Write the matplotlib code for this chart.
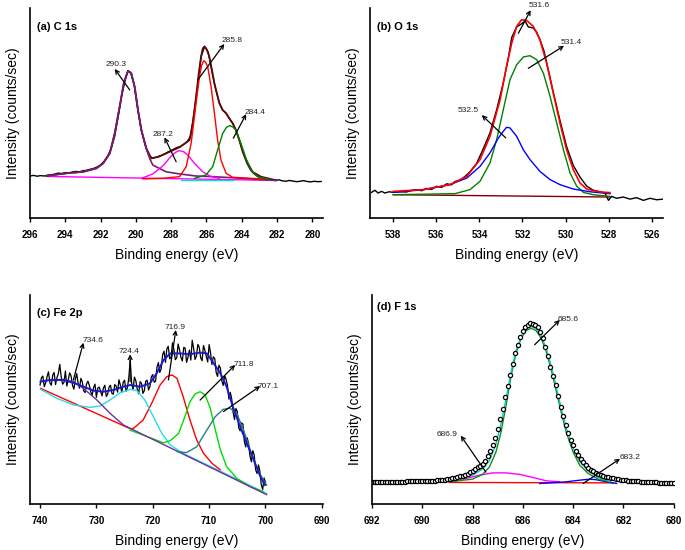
import numpy as np
import matplotlib
matplotlib.use("Agg")
import matplotlib.pyplot as plt

plt.rcParams['font.family'] = ['Liberation Sans', 'DejaVu Sans']

# ---------------- Panel (a) C 1s ----------------
a_raw_e = [296.0,295.8,295.6,295.4,295.2,295.0,294.8,294.6,294.4,294.2,294.0,293.8,293.6,293.4,293.2,293.0,
           292.8,292.6,292.4,292.2,292.0,291.8,291.6,291.4,291.2,291.0,290.8,290.6,290.45,290.3,290.1,289.9,
           289.7,289.5,289.3,289.1,288.9,288.7,288.5,288.3,288.1,287.9,287.7,287.5,287.3,287.1,286.9,286.7,
           286.5,286.3,286.1,285.9,285.7,285.5,285.3,285.1,284.9,284.7,284.5,284.3,284.1,283.9,283.7,283.5,
           283.3,283.1,282.9,282.7,282.5,282.3,282.1,281.9,281.7,281.5,281.3,281.1,280.9,280.7,280.5,280.3,
           280.1,279.9,279.7,279.5]
a_raw_i = [20.0,20.3,19.9,20.2,20.0,20.4,20.6,20.9,21.4,21.2,21.6,21.5,21.9,22.2,22.0,22.5,
           22.7,23.2,23.6,24.3,25.3,27.0,29.5,33.0,39.0,48.5,58.5,66.0,70.1,69.3,63.5,52.0,
           42.0,35.5,30.5,28.6,28.8,29.4,30.0,30.9,31.8,32.6,33.5,34.0,35.0,36.3,39.0,50.0,
           63.0,77.0,81.8,79.0,70.0,62.0,55.5,51.5,50.0,47.3,45.0,41.0,36.0,30.5,26.0,22.8,
           21.0,19.8,19.2,18.8,18.4,18.0,17.9,18.2,17.7,17.5,17.9,17.6,17.3,17.5,17.8,17.4,
           17.2,17.5,17.3,17.4]
a_env_e = [295.06,293.93,292.99,292.23,291.86,291.48,291.20,290.92,290.69,290.45,290.26,290.07,289.88,
           289.69,289.41,289.13,288.7,288.28,287.53,286.96,286.78,286.59,286.44,286.31,286.21,286.12,
           285.99,285.84,285.69,285.55,285.27,285.08,284.89,284.71,284.52,284.33,284.14,283.95,283.76,
           283.39,282.92,282.07]
a_env_i = [20.1,21.3,22.0,23.7,26.0,30.8,40.3,53.0,64.1,70.1,68.9,62.5,51.4,
           41.9,33.2,28.4,29.2,30.8,33.7,37.1,45.1,57.8,68.9,76.8,80.8,81.6,
           80.3,76.8,70.5,64.1,54.6,51.4,49.9,47.5,45.1,41.9,37.1,31.6,27.6,
           22.0,19.7,18.0]
a_pur_e = [295.06,293.93,292.99,292.23,291.86,291.48,291.20,290.92,290.69,290.45,290.26,290.07,289.88,
           289.69,289.41,289.2,289.04,288.28,287.53,286.59,285.65,284.14,282.07]
a_pur_i = [20.1,21.3,22.0,23.7,26.0,30.8,40.3,53.0,64.1,70.1,68.9,62.5,51.4,
           41.9,33.0,28.0,25.2,22.0,21.0,20.0,19.7,19.0,17.9]
a_red_e = [289.6,288.5,287.53,287.15,286.87,286.59,286.40,286.28,286.16,286.05,285.93,285.74,285.55,
           285.37,285.18,284.89,284.52,283.5,282.64]
a_red_i = [18.6,18.9,19.7,24.4,35.6,54.6,67.3,72.5,74.9,74.2,72.0,62.5,49.9,
           37.1,27.6,21.3,19.4,18.9,18.6]
a_mag_e = [289.69,289.04,288.47,288.0,287.75,287.53,287.3,287.06,286.68,286.21,285.74,285.27]
a_mag_i = [18.9,21.0,24.8,29.5,31.3,32.1,31.6,30.0,26.0,22.0,19.7,18.9]
a_grn_e = [286.68,286.03,285.65,285.37,285.08,284.87,284.67,284.5,284.33,284.05,283.76,283.48,283.11,282.45]
a_grn_i = [18.9,20.5,24.4,32.4,40.3,43.2,44.0,43.3,41.9,35.6,28.4,22.9,19.7,18.4]
a_cyn_e = [287.44,284.52]
a_cyn_i = [18.3,18.3]
a_bas_e = [295.06,282.07]
a_bas_i = [19.8,17.9]
a_labels = ['290.3', '285.8', '287.2', '284.4']

# ---------------- Panel (b) O 1s ----------------
b_raw_e = [539.01,538.85,538.70,538.54,538.39,538.19,538.0,537.69,537.38,537.15,536.92,536.68,536.45,
           536.22,535.99,535.75,535.52,535.29,535.14,534.90,534.67,534.44,534.13,533.82,533.51,533.2,
           532.89,532.66,532.5,532.27,532.04,531.88,531.73,531.5,531.34,531.19,531.0,530.8,530.57,
           530.26,529.95,529.64,529.33,529.02,528.71,528.4,528.17,528.01,527.86,527.63,527.32,527.01,
           526.7,526.39,526.08,525.77,525.46]
b_raw_i = [12.2,13.2,11.9,12.7,11.9,12.5,12.2,12.5,12.4,13.2,13.5,13.0,14.1,
           13.6,15.1,14.6,16.3,15.8,17.4,18.0,19.8,22.0,26.0,33.0,40.5,51.5,
           64.5,76.0,86.0,91.0,92.5,93.8,91.0,90.5,88.5,85.0,79.5,70.5,59.8,
           46.5,34.0,25.0,19.5,15.2,13.2,12.5,11.9,8.4,10.3,9.4,10.0,9.0,
           9.7,8.4,9.4,8.7,9.0]
b_red_e = [538.0,536.61,535.37,534.59,533.97,533.51,533.04,532.74,532.5,532.27,532.04,531.81,531.5,
           531.19,530.88,530.57,530.26,529.95,529.64,529.33,529.02,528.4,527.94]
b_red_i = [12.7,13.5,15.9,19.8,27.8,38.9,56.3,72.2,83.3,91.3,94.4,94.1,91.3,
           84.9,73.8,59.5,45.2,32.5,23.0,16.7,13.8,12.4,12.1]
b_grn_e = [538.0,535.14,534.44,533.97,533.51,533.2,532.89,532.58,532.27,531.96,531.65,531.34,531.03,
           530.72,530.41,530.1,529.79,529.48,529.17,528.71,527.94]
b_grn_i = [11.1,11.6,13.5,17.5,26.2,37.3,51.6,65.9,73.0,76.7,77.3,75.4,69.0,
           57.9,45.2,32.5,21.4,15.1,12.2,11.1,10.3]
b_blu_e = [538.0,536.61,535.37,534.59,533.97,533.51,533.12,532.89,532.74,532.58,532.27,531.96,531.65,
           531.19,530.72,530.26,529.64,528.86,527.94]
b_blu_i = [12.2,13.5,15.9,19.0,24.6,31.0,38.1,41.3,43.2,42.9,38.9,32.5,27.8,
           22.2,18.3,15.9,13.8,12.5,11.6]
b_bas_e = [538.0,527.94]
b_bas_i = [11.1,10.0]
b_labels = ['531.6', '531.4', '532.5']

# ---------------- Panel (c) Fe 2p ----------------
c_raw_e = np.linspace(740.0, 700.0, 161)
c_raw_i = [57.0,60.5,61.3,56.2,58.1,61.0,63.3,58.0,56.9,61.8,
           63.0,57.2,60.5,62.4,66.9,61.0,57.4,58.2,63.7,56.5,
           59.4,62.8,61.4,57.0,55.0,59.6,62.5,58.0,55.5,60.2,
           58.4,54.2,53.4,57.5,58.8,56.8,53.8,52.0,55.8,57.4,
           51.1,55.5,56.0,54.0,51.8,55.6,56.9,51.5,52.6,56.0,
           56.9,53.0,52.6,57.2,56.5,53.6,59.5,57.0,53.4,58.3,
           59.3,54.0,55.7,60.5,69.0,58.0,54.8,60.8,59.0,55.0,
           52.8,58.6,57.8,53.0,54.3,58.8,59.3,54.6,56.3,60.9,
           62.0,58.3,58.8,65.5,67.7,63.0,64.8,71.5,73.2,67.8,
           74.3,75.5,69.5,70.2,77.2,74.0,69.1,70.0,76.6,73.8,
           70.1,68.5,75.0,74.6,67.8,70.3,73.7,68.9,78.4,74.5,
           69.2,70.8,76.4,75.0,70.0,68.6,75.9,73.5,70.6,68.0,
           76.3,72.4,66.8,70.5,69.6,63.0,61.1,66.5,65.1,59.0,
           56.8,61.5,59.8,56.9,50.3,53.5,50.5,44.0,40.5,45.8,
           44.3,36.5,35.1,38.9,38.3,30.0,27.4,31.8,29.1,23.0,
           20.3,25.6,23.5,16.5,14.7,18.8,15.9,9.5,7.0,12.6,
           10.3]
c_env_e = [739.9,738.2,735.9,734.1,732.3,730.5,728.8,727.0,725.2,724.0,722.2,720.5,719.3,718.1,716.9,
           715.1,713.4,711.6,710.4,709.2,708.0,706.9,705.7,704.5,703.3,702.1,700.9,700.1]
c_env_i = [58.6,59.4,59.4,58.1,56.2,54.3,53.8,54.6,56.2,57.0,56.2,57.8,62.6,68.9,72.1,
           72.1,71.7,72.5,72.1,67.4,62.6,56.2,45.9,37.1,29.1,21.2,13.2,9.2]
c_pur_e = [739.9,738.2,735.9,734.1,732.3,729.9,727.6,725.2,723.4,699.8]
c_pur_i = [58.6,59.4,59.7,58.6,55.4,49.8,43.5,37.9,35.5,4.6]
c_red_e = [739.9,723.9,723.4,721.7,720.2,718.7,717.5,716.6,715.7,714.6,713.4,712.2,711.0,709.5,708.0]
c_red_i = [55.4,36.0,36.3,40.3,48.2,57.0,61.0,61.8,60.2,51.4,40.3,30.7,24.4,19.6,16.4]
c_cyn_e = [739.9,737.0,734.1,731.1,729.3,727.6,725.8,724.0,722.8,721.4,719.9,718.4,716.9,715.1,714.5,699.8]
c_cyn_i = [54.9,50.6,47.5,46.3,47.0,49.8,53.3,54.9,54.3,49.8,41.9,33.9,28.3,25.2,24.2,5.2]
c_grn_e = [724.0,718.1,716.9,715.4,714.3,713.4,712.5,711.6,710.7,709.8,708.9,708.0,706.9,705.1,702.7,700.4]
c_grn_i = [35.4,29.4,30.4,33.9,41.9,49.0,52.7,53.8,52.2,45.9,35.5,26.0,18.0,12.4,8.4,6.1]
c_tel_e = [715.7,714.0,712.2,710.4,708.9,707.5,706.3,705.1,703.9,702.7,701.6,700.4,699.8]
c_tel_i = [25.2,24.7,27.5,35.5,41.9,45.4,45.9,43.5,35.5,26.0,18.0,11.6,9.2]
c_labels = ['734.6', '724.4', '716.9', '711.8', '707.1']

# ---------------- Panel (d) F 1s ----------------
d_dat_e = np.linspace(692.0, 680.0, 121)
d_dat_i = [10.8,10.8,10.8,10.8,10.8,10.8,10.9,10.9,10.9,10.9,
           10.9,10.9,10.9,10.9,11.0,11.0,11.0,11.0,11.1,11.1,
           11.1,11.2,11.2,11.3,11.3,11.4,11.5,11.6,11.7,11.8,
           12.0,12.2,12.5,12.8,13.1,13.4,13.8,14.3,14.8,15.4,
           16.1,16.9,17.7,18.5,19.6,20.8,23.2,25.8,28.6,32.0,
           36.0,41.0,45.8,51.5,56.8,62.0,67.5,72.5,76.8,80.5,
           83.3,85.2,86.3,87.0,86.9,86.4,85.0,82.8,79.8,75.5,
           71.1,65.8,61.6,57.2,52.1,46.8,42.5,38.2,34.5,31.0,
           28.3,25.8,23.6,21.7,20.2,18.8,17.6,16.6,15.8,15.0,
           14.4,14.0,13.6,13.3,13.0,12.7,12.4,12.2,12.0,11.8,
           11.7,11.6,11.4,11.3,11.2,11.1,11.0,10.9,10.9,10.8,
           10.8,10.7,10.6,10.5,10.4,10.3,10.2,10.2,10.1,10.1,
           10.0]
d_grn_e = [688.93,688.0,687.6,687.33,687.07,686.87,686.67,686.47,686.27,686.07,685.87,685.67,685.47,
           685.27,685.07,684.87,684.67,684.47,684.27,684.0,683.73,683.4,683.0,682.53]
d_grn_i = [10.8,12.1,14.4,17.9,25.1,34.6,47.3,61.6,72.7,79.8,83.5,84.6,83.5,
           79.8,73.5,64.8,54.4,44.1,34.6,25.1,18.7,14.8,12.1,10.8]
d_cyn_e = d_grn_e
d_cyn_i = [11.0,14.0,17.0,21.0,29.0,38.5,50.5,63.5,74.0,80.5,84.3,85.5,84.5,
           81.0,75.0,66.5,56.5,46.0,36.5,27.0,20.5,16.0,13.0,11.0]
d_mag_e = [688.93,688.27,687.73,687.2,686.67,686.13,685.6,685.07,684.53]
d_mag_i = [11.1,12.4,14.0,15.1,15.1,14.4,12.9,11.3,10.8]
d_blu_e = [685.33,684.27,683.73,683.33,683.07,682.67,682.27]
d_blu_i = [10.0,10.8,11.6,12.1,11.8,10.8,10.0]
d_red_e = [688.93,682.4]
d_red_i = [10.5,10.3]
d_labels = ['685.6', '686.9', '683.2']

# ---------------- layout / styling ----------------
fig = plt.figure(figsize=(6.85, 5.5), dpi=100)
axA = fig.add_axes([0.0438, 0.6036, 0.4277, 0.3818])
axB = fig.add_axes([0.5401, 0.6036, 0.4277, 0.3818])
axC = fig.add_axes([0.0438, 0.0831, 0.4277, 0.3805])
axD = fig.add_axes([0.5431, 0.0831, 0.4403, 0.3805])


def style(ax, xlim, ylim, ticks, title, tpos):
    ax.set_xlim(*xlim)
    ax.set_ylim(*ylim)
    ax.set_xticks(ticks)
    ax.set_xticklabels([str(t) for t in ticks], fontweight='bold', fontsize=7)
    ax.set_yticks([])
    for s in ('top', 'right'):
        ax.spines[s].set_visible(False)
    for s in ('left', 'bottom'):
        ax.spines[s].set_linewidth(1.2)
    ax.tick_params(axis='x', direction='out', length=3, width=1, pad=5.5)
    ax.set_xlabel('Binding energy (eV)', fontsize=10, labelpad=6)
    ax.set_ylabel('Intensity (counts/sec)', fontsize=10, labelpad=7)
    ax.text(tpos[0], tpos[1], title, transform=ax.transAxes, fontsize=8,
            fontweight='bold', ha='left', va='center')


def note(ax, label, tail, head, txt):
    ax.annotate('', xy=head, xytext=tail,
                arrowprops=dict(arrowstyle='->', color='black', lw=0.9,
                                shrinkA=0, shrinkB=0, mutation_scale=7))
    ax.text(txt[0], txt[1], label, fontsize=6, ha='center', va='center', color='#222222')


lw = 1.0
# (a)
axA.plot(a_raw_e, a_raw_i, color='black', lw=lw)
axA.plot(a_bas_e, a_bas_i, color='#ff00ff', lw=lw)
axA.plot(a_env_e, a_env_i, color='#5a0a0a', lw=1.3)
axA.plot(a_pur_e, a_pur_i, color='#7a1a7a', lw=1.2)
axA.plot(a_cyn_e, a_cyn_i, color='#00dddd', lw=lw)
axA.plot(a_mag_e, a_mag_i, color='#ff00ff', lw=lw)
axA.plot(a_red_e, a_red_i, color='#ff0000', lw=lw)
axA.plot(a_grn_e, a_grn_i, color='#008000', lw=lw)
style(axA, (296, 279.4), (0, 100), [296, 294, 292, 290, 288, 286, 284, 282, 280], '(a) C 1s', (0.023, 0.912))
note(axA, a_labels[0], (290.35, 61.0), (291.2, 71.0), (291.13, 73.3))
note(axA, a_labels[1], (286.5, 65.7), (284.99, 82.9), (284.54, 84.5))
note(axA, a_labels[2], (287.72, 26.8), (288.38, 38.4), (288.49, 39.8))
note(axA, a_labels[3], (284.48, 38.0), (283.75, 49.5), (283.24, 50.2))

# (b)
axB.plot(b_raw_e, b_raw_i, color='black', lw=lw)
axB.plot(b_bas_e, b_bas_i, color='#800000', lw=lw)
axB.plot(b_grn_e, b_grn_i, color='#008000', lw=lw)
axB.plot(b_blu_e, b_blu_i, color='#0000ff', lw=lw)
axB.plot(b_red_e, b_red_i, color='#ff0000', lw=1.2)
style(axB, (539.08, 525.48), (0, 100), [538, 536, 534, 532, 530, 528, 526], '(b) O 1s', (0.023, 0.912))
note(axB, b_labels[0], (532.19, 88.0), (531.62, 99.0), (531.23, 101.2))
note(axB, b_labels[1], (531.73, 71.3), (530.07, 82.0), (529.74, 83.8))
note(axB, b_labels[2], (532.78, 38.2), (533.89, 49.0), (534.53, 51.0))

# (c)
axC.plot(c_raw_e, c_raw_i, color='black', lw=0.9)
axC.plot(c_red_e, c_red_i, color='#ff0000', lw=lw)
axC.plot(c_cyn_e, c_cyn_i, color='#22ddee', lw=lw)
axC.plot(c_grn_e, c_grn_i, color='#00dd00', lw=lw)
axC.plot(c_pur_e, c_pur_i, color='#7030a0', lw=lw)
axC.plot(c_tel_e, c_tel_i, color='#2a8080', lw=lw)
axC.plot(c_env_e, c_env_i, color='#1a1acc', lw=1.4)
style(axC, (741.78, 689.8), (0, 100), [740, 730, 720, 710, 700, 690], '(c) Fe 2p', (0.023, 0.916))
note(axC, c_labels[0], (734.09, 59.4), (732.31, 77.2), (730.59, 78.5))
note(axC, c_labels[1], (724.02, 58.6), (724.02, 71.7), (724.2, 73.2))
note(axC, c_labels[2], (717.22, 59.4), (715.91, 83.3), (716.03, 84.7))
note(axC, c_labels[3], (711.6, 49.8), (705.38, 66.6), (703.78, 66.8))
note(axC, c_labels[4], (707.46, 44.3), (700.94, 56.5), (699.52, 56.3))

# (d)
axD.plot(d_red_e, d_red_i, color='#ff0000', lw=lw)
axD.plot(d_mag_e, d_mag_i, color='#ff00ff', lw=lw)
axD.plot(d_blu_e, d_blu_i, color='#0000ff', lw=lw)
axD.plot(d_grn_e, d_grn_i, color='#1a8a1a', lw=lw)
axD.plot(d_cyn_e, d_cyn_i, color='#00cccc', lw=lw)
axD.plot(d_dat_e, d_dat_i, linestyle='none', marker='o', markersize=3.0,
         markerfacecolor='white', markeredgecolor='black', markeredgewidth=0.9)
style(axD, (692, 680), (0, 100.6), [692, 690, 688, 686, 684, 682, 680], '(d) F 1s', (0.016, 0.944))
note(axD, d_labels[0], (685.53, 76.7), (684.53, 88.6), (684.21, 89.0))
note(axD, d_labels[1], (687.47, 15.5), (688.47, 33.0), (689.01, 33.5))
note(axD, d_labels[2], (683.6, 10.0), (682.13, 21.9), (681.73, 22.3))

fig.savefig('out.png', dpi=100)
